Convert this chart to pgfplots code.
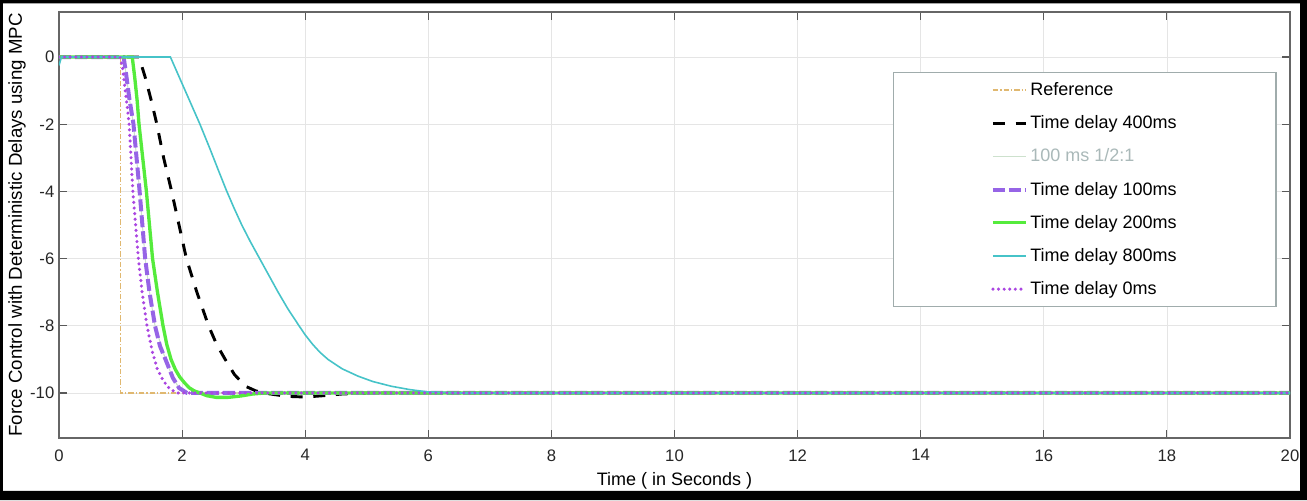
\documentclass[border=0pt]{standalone}
\usepackage{pgfplots}
\pgfplotsset{compat=1.18}
\usepackage{fontspec}
\setmainfont{Liberation Sans}
\usetikzlibrary{calc}

\definecolor{refcol}{RGB}{224,184,112}
\definecolor{lightcol}{RGB}{205,225,205}
\definecolor{lighttxt}{RGB}{170,185,185}
\definecolor{purpdash}{RGB}{150,100,230}
\definecolor{greencol}{RGB}{85,235,60}
\definecolor{cyancol}{RGB}{70,195,200}
\definecolor{purpdot}{RGB}{170,70,225}
\definecolor{legframe}{RGB}{160,172,172}

\begin{document}
\begin{tikzpicture}
\begin{axis}[
    scale only axis,
    width=923.25pt, height=319.5pt,
    xmin=0, xmax=20, ymin=-11.34, ymax=1.34,
    xtick={0,2,...,20}, ytick={-10,-8,...,0},
    grid=major,
    grid style={draw=black!10, line width=0.6pt},
    axis line style={draw=black!60, line width=0.8pt},
    tick style={draw=black!65, line width=0.8pt},
    major tick length=6pt, tick align=inside,
    /pgf/number format/assume math mode=true,
    ticklabel style={font=\fontsize{12.5}{14}\selectfont, text=black!85},
    xticklabel style={yshift=-5pt},
    xlabel={Time ( in Seconds )},
    ylabel={Force Control with Deterministic Delays using MPC},
    xlabel style={at={(axis description cs:0.5,-0.101)}, anchor=center,
        font=\fontsize{13.5}{15}\selectfont},
    ylabel style={at={(axis description cs:-0.0341,0.5)}, anchor=center,
        font=\fontsize{14}{16}\selectfont},
    legend image code/.code={\draw[#1] (0pt,0pt) -- (25pt,0pt);},
    legend cell align=left,
    legend style={at={(0.6775,0.8592)}, anchor=north west,
        draw=legframe, line width=0.9pt,
        font=\fontsize{13.5}{16}\selectfont,
        inner xsep=73pt, inner ysep=5.5pt, row sep=9.6pt,
        nodes={inner xsep=1.5pt, inner ysep=2pt}},
]
\coordinate (SW) at (rel axis cs:0,0);
\coordinate (NE) at (rel axis cs:1,1);

\addplot[refcol, line width=1.4pt, dash pattern=on 4pt off 1.5pt on 1pt off 1.5pt]
    coordinates {(0,0) (1,0) (1,-10) (20,-10)};
\addlegendentry{Reference}

\addplot[black, line width=2.2pt, dash pattern=on 9pt off 8pt] coordinates {
    (0,0) (1.3,0) (1.4,-0.6) (1.5,-1.3) (1.59,-2) (1.70,-3) (1.83,-4)
    (1.95,-5) (2.07,-6) (2.24,-7) (2.43,-8) (2.56,-8.55) (2.70,-9)
    (2.85,-9.45) (3.03,-9.8) (3.2,-9.94) (3.4,-10.02) (3.7,-10.1)
    (4.0,-10.12) (4.3,-10.08) (4.6,-10.03) (5.0,-10) (20,-10)};
\addlegendentry{Time delay 400ms}

\addplot[lightcol, line width=0.8pt] coordinates {
    (0,0) (1.05,0) (1.09,-0.5) (1.14,-1.2) (1.21,-2) (1.26,-3) (1.31,-4)
    (1.355,-5) (1.40,-6) (1.47,-7) (1.56,-8) (1.73,-9) (1.85,-9.55)
    (1.95,-9.85) (2.08,-10) (20,-10)};
\addlegendentry{\textcolor{lighttxt}{100 ms 1/2:1}}

\addplot[purpdash, line width=3pt, dash pattern=on 9pt off 3pt] coordinates {
    (0,0) (1.05,0) (1.09,-0.5) (1.14,-1.2) (1.21,-2) (1.26,-3) (1.31,-4)
    (1.355,-5) (1.40,-6) (1.47,-7) (1.56,-8) (1.64,-8.6) (1.73,-9)
    (1.85,-9.55) (1.95,-9.85) (2.08,-10) (20,-10)};
\addlegendentry{Time delay 100ms}

\addplot[greencol, line width=2.5pt] coordinates {
    (0,0) (1.19,0) (1.23,-0.6) (1.27,-1.3) (1.30,-2) (1.36,-3) (1.42,-4)
    (1.47,-5) (1.52,-6) (1.60,-7) (1.69,-8) (1.75,-8.55) (1.82,-9)
    (1.89,-9.3) (1.96,-9.52) (2.04,-9.7) (2.12,-9.85) (2.2,-9.94)
    (2.29,-10) (2.4,-10.08) (2.55,-10.13) (2.75,-10.13)
    (2.95,-10.09) (3.15,-10.03) (3.35,-10) (20,-10)};
\addlegendentry{Time delay 200ms}

\addplot[cyancol, line width=1.2pt] coordinates {
    (0,-0.25) (0.04,0) (1.81,0) (2.29,-2) (2.45,-2.72) (2.6,-3.42)
    (2.72,-3.97) (2.84,-4.48) (2.97,-5) (3.11,-5.5) (3.26,-6) (3.41,-6.5)
    (3.56,-7) (3.72,-7.5) (3.9,-8) (4.0,-8.27) (4.12,-8.55) (4.24,-8.79)
    (4.37,-9) (4.6,-9.28) (4.86,-9.5) (5.1,-9.66) (5.4,-9.8) (5.7,-9.9)
    (6.0,-9.97) (6.5,-10) (20,-10)};
\addlegendentry{Time delay 800ms}

\addplot[purpdot, line width=2.6pt, line cap=round, dash pattern=on 0pt off 4.2pt]
    coordinates {
    (0,0) (0.99,0) (1.03,-0.3) (1.07,-0.9) (1.11,-1.5) (1.14,-2.0)
    (1.17,-3.0) (1.20,-4.0) (1.245,-5.0) (1.29,-6.0) (1.35,-7.0)
    (1.43,-8.0) (1.52,-8.8) (1.6,-9.3) (1.7,-9.65) (1.8,-9.88)
    (1.92,-10) (20,-10)};
\addlegendentry{Time delay 0ms}
\end{axis}

\coordinate (O1) at ($(SW)+(-44.25pt,-46.5pt)$);
\coordinate (O2) at ($(NE)+(12.75pt,9pt)$);
\path[use as bounding box] (O1) rectangle (O2);
\fill[black, even odd rule] (O1) rectangle (O2)
    ($(O1)+(2.25pt,6.75pt)$) rectangle ($(O2)+(-5.25pt,-2.5pt)$);
\end{tikzpicture}
\end{document}
